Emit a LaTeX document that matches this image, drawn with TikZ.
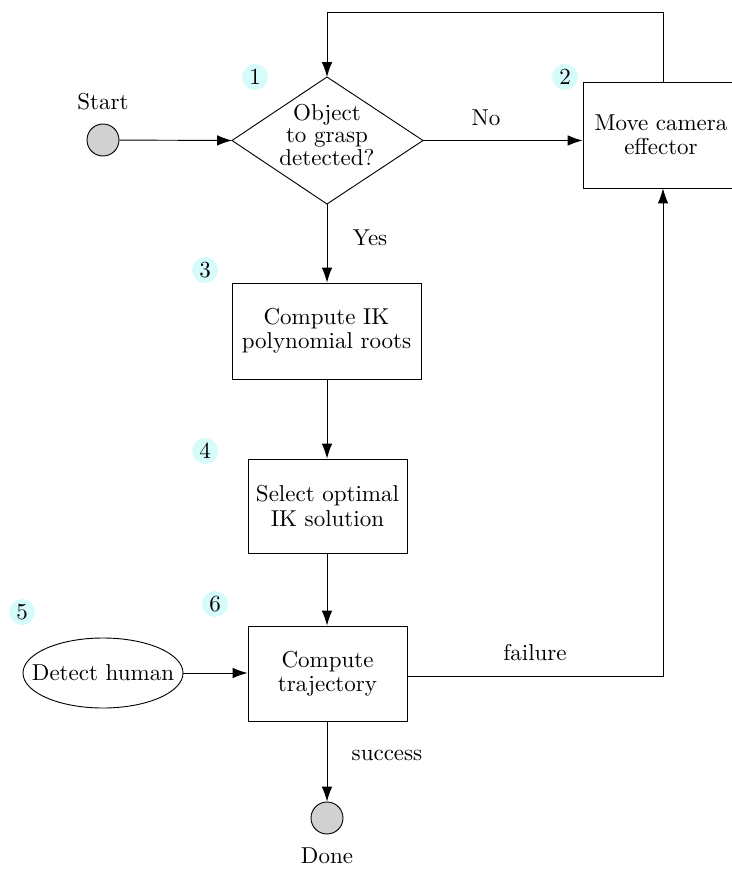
\documentclass[tikz,border=0pt]{standalone}
\usetikzlibrary{shapes.geometric,arrows.meta}
\definecolor{numcol}{RGB}{214,251,251}
\begin{document}
\begin{tikzpicture}[x=0.435pt,y=-0.435pt,
  every node/.style={font=\fontsize{10}{10.5}\selectfont},
  arr/.style={-{Latex[length=6.5pt,width=4.6pt]},line width=0.4pt},
  ln/.style={line width=0.4pt},
  box/.style={draw,line width=0.4pt,align=center,inner sep=0pt},
  term/.style={circle,draw,fill=black!18,minimum size=32*0.435pt,inner sep=0pt,line width=0.4pt},
  num/.style={circle,fill=numcol,minimum size=26*0.435pt,inner sep=0pt},
  lbl/.style={inner sep=0pt}]
\useasboundingbox (0,0) rectangle (731,869);
% terminals
\node[term] (start) at (103,140) {};
\node[lbl] (startl) at (103,102) {Start};
\node[term] (done) at (327,818) {};
\node[lbl] (donel) at (327,856) {Done};
% decision
\coordinate (dtop) at (327,77);
\coordinate (dbot) at (327,204);
\coordinate (dleft) at (232,140.5);
\coordinate (dright) at (423,140.5);
\draw[ln] (dtop) -- (dright) -- (dbot) -- (dleft) -- cycle;
\node[lbl,align=center,font=\fontsize{10}{9.9}\selectfont] (dec) at (327,135) {Object\\to grasp\\detected?};
% boxes
\node[box,minimum width=156*0.435pt,minimum height=106*0.435pt] (move) at (661,135) {Move camera\\effector};
\node[box,minimum width=189*0.435pt,minimum height=96*0.435pt] (ik) at (326.5,331) {Compute IK\\polynomial roots};
\node[box,minimum width=159*0.435pt,minimum height=94*0.435pt] (sel) at (327.5,506) {Select optimal\\IK solution};
\node[box,minimum width=159*0.435pt,minimum height=95*0.435pt] (traj) at (327.5,673.5) {Compute\\trajectory};
\node[lbl] (human) at (103,673) {Detect human};
\draw[ln] (human.center) ellipse [x radius=80, y radius=35];
\coordinate (hright) at (183,673);
% numbers
\node[num] (n1) at (255,77) {1};
\node[num] (n2) at (565,77) {2};
\node[num] (n3) at (205,270) {3};
\node[num] (n4) at (205,451) {4};
\node[num] (n5) at (22,612) {5};
\node[num] (n6) at (215,604) {6};
% connectors
\draw[arr] (start) -- (dleft);
\draw[arr] (dright) -- (move.west |- dright);
\node[lbl] (nol) at (486,118) {No};
\coordinate (c1) at (663,12);
\coordinate (c2) at (327,12);
\draw[arr] (move.north -| c1) -- (c1) -- (c2) -- (dtop);
\draw[arr] (dbot) -- (ik.north -| dbot);
\node[lbl] (yesl) at (370,238) {Yes};
\draw[arr] (ik.south -| dbot) -- (sel.north -| dbot);
\draw[arr] (sel.south -| dbot) -- (traj.north -| dbot);
\draw[arr] (hright) -- (traj.west |- hright);
\coordinate (c3) at (663,676);
\draw[arr] (traj.east |- c3) -- (c3) -- (move.south -| c3);
\node[lbl] (faill) at (535,653) {failure};
\draw[arr] (traj.south -| dbot) -- (done);
\node[lbl] (succl) at (387,755) {success};
\end{tikzpicture}
\end{document}
